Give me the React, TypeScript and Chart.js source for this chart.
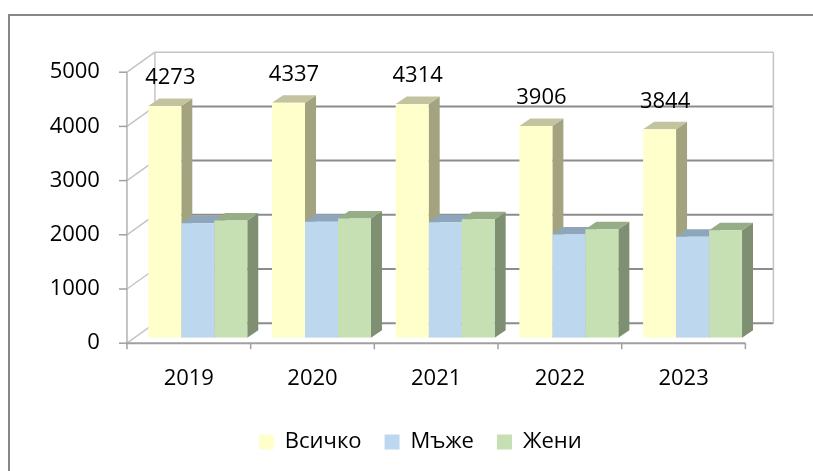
import React, { useEffect, useRef } from "react";
import { Chart, registerables } from "chart.js";

Chart.register(...registerables);

const categories = ["2019", "2020", "2021", "2022", "2023"];
const seriesNames = ["Всичко", "Мъже", "Жени"];
const totalValues = [4273, 4337, 4314, 3906, 3844];
const menValues = [2110, 2140, 2130, 1905, 1862];
const womenValues = [2163, 2197, 2184, 2001, 1982];
const yTicks = [0, 1000, 2000, 3000, 4000, 5000];

const frontColors = ["#FFFFCC", "#BDD7EE", "#C6E0B4"];
const topColors = ["#C3C39F", "#8DA6BB", "#97AD88"];
const sideColors = ["#A3A37F", "#7E93A6", "#7F8F71"];

const FONT = "'Open Sans', 'Noto Sans', sans-serif";
const GRID = "#8c8c8c";
const LIGHT = "#c4c4c4";

// projection offsets (relative to the bar front plane)
const FRONT = { x: -9, y: 5.5 };
const BACK = { x: 19, y: -14.5 };
const DEPTH = { x: 11, y: -7.5 };

const line = (ctx: CanvasRenderingContext2D, x1: number, y1: number, x2: number, y2: number, color: string, w: number) => {
  ctx.beginPath();
  ctx.strokeStyle = color;
  ctx.lineWidth = w;
  ctx.moveTo(x1, y1);
  ctx.lineTo(x2, y2);
  ctx.stroke();
};

const poly = (ctx: CanvasRenderingContext2D, pts: number[][], color: string) => {
  ctx.beginPath();
  ctx.fillStyle = color;
  pts.forEach((p, i) => (i === 0 ? ctx.moveTo(p[0], p[1]) : ctx.lineTo(p[0], p[1])));
  ctx.closePath();
  ctx.fill();
};

const threeD = {
  id: "threeD",
  beforeDraw(chart: any) {
    const ctx = chart.ctx as CanvasRenderingContext2D;
    ctx.save();
    ctx.strokeStyle = "#878787";
    ctx.lineWidth = 2;
    ctx.strokeRect(9, 15, 900, 600);
    ctx.restore();
  },
  beforeDatasetsDraw(chart: any) {
    const ctx = chart.ctx as CanvasRenderingContext2D;
    const { left, right } = chart.chartArea;
    const x = chart.scales.x;
    const y = chart.scales.y;
    const maxV = yTicks[yTicks.length - 1];
    const yTop = y.getPixelForValue(maxV);
    const y0 = y.getPixelForValue(0);
    ctx.save();
    // back wall gridlines
    yTicks.forEach((v) => {
      const py = y.getPixelForValue(v);
      line(ctx, left + BACK.x, py + BACK.y, right + BACK.x, py + BACK.y, v === maxV ? LIGHT : GRID, v === maxV ? 1.5 : 2);
    });
    // back wall edges
    line(ctx, left + BACK.x, yTop + BACK.y, left + BACK.x, y0 + BACK.y, LIGHT, 1.5);
    line(ctx, right + BACK.x, yTop + BACK.y, right + BACK.x, y0 + BACK.y, LIGHT, 1.5);
    // side wall diagonals
    yTicks.forEach((v) => {
      const py = y.getPixelForValue(v);
      line(ctx, left + FRONT.x, py + FRONT.y, left + BACK.x, py + BACK.y, LIGHT, 1.5);
    });
    // front value axis
    line(ctx, left + FRONT.x, yTop + FRONT.y, left + FRONT.x, y0 + FRONT.y, "#b0b0b0", 1.5);
    yTicks.forEach((v) => {
      const py = y.getPixelForValue(v);
      line(ctx, left + FRONT.x - 8, py + FRONT.y, left + FRONT.x, py + FRONT.y, "#a0a0a0", 1.5);
    });
    // front category axis
    line(ctx, left + FRONT.x, y0 + FRONT.y, right + FRONT.x, y0 + FRONT.y, "#a0a0a0", 2);
    const catW = x.getPixelForValue(1) - x.getPixelForValue(0);
    for (let i = 0; i <= categories.length; i++) {
      const bx = x.getPixelForValue(0) - catW / 2 + i * catW + FRONT.x;
      line(ctx, bx, y0 + FRONT.y, bx, y0 + FRONT.y + 6, "#a0a0a0", 1.5);
    }
    // bar side and top faces
    const nSets = chart.data.datasets.length;
    for (let i = 0; i < categories.length; i++) {
      for (let j = 0; j < nSets; j++) {
        const bar = chart.getDatasetMeta(j).data[i];
        const p = bar.getProps(["x", "y", "base", "width"], true);
        const l = p.x - p.width / 2;
        const r = p.x + p.width / 2;
        poly(ctx, [[r, p.y], [r + DEPTH.x, p.y + DEPTH.y], [r + DEPTH.x, p.base + DEPTH.y], [r, p.base]], sideColors[j]);
        poly(ctx, [[l, p.y], [l + DEPTH.x, p.y + DEPTH.y], [r + DEPTH.x, p.y + DEPTH.y], [r, p.y]], topColors[j]);
      }
    }
    ctx.restore();
  },
  afterDatasetsDraw(chart: any) {
    const ctx = chart.ctx as CanvasRenderingContext2D;
    ctx.save();
    ctx.font = `22px ${FONT}`;
    ctx.fillStyle = "#000";
    ctx.textAlign = "center";
    ctx.textBaseline = "middle";
    chart.getDatasetMeta(0).data.forEach((bar: any, i: number) => {
      const p = bar.getProps(["x", "y"], true);
      ctx.fillText(String(totalValues[i]), p.x + DEPTH.x / 2, p.y - 28);
    });
    ctx.restore();
  },
};

export default function App() {
  const ref = useRef<HTMLCanvasElement>(null);
  useEffect(() => {
    if (!ref.current) return;
    Chart.defaults.color = "#000";
    const chart = new Chart(ref.current, {
      type: "bar",
      data: {
        labels: categories,
        datasets: [totalValues, menValues, womenValues].map((vals, j) => ({
          label: seriesNames[j],
          data: vals,
          backgroundColor: frontColors[j],
          borderWidth: 0,
          categoryPercentage: 0.8,
          barPercentage: 1.0,
        })),
      },
      options: {
        animation: false,
        responsive: true,
        maintainAspectRatio: false,
        layout: { padding: { left: 27.6, right: 0, top: 66.7, bottom: 8 } },
        plugins: {
          tooltip: { enabled: false },
          legend: {
            position: "bottom",
            labels: {
              font: { family: FONT, size: 22 },
              color: "#000",
              boxWidth: 15,
              boxHeight: 15,
              padding: 23,
            },
          },
        },
        scales: {
          x: {
            grid: { display: false },
            border: { display: false },
            ticks: { font: { family: FONT, size: 22 }, color: "#000", labelOffset: FRONT.x, padding: 20, maxRotation: 0 },
            afterFit: (s: any) => { s.height = 70.3; },
          },
          y: {
            min: yTicks[0],
            max: yTicks[yTicks.length - 1],
            grid: { display: false },
            border: { display: false },
            ticks: {
              stepSize: yTicks[1] - yTicks[0],
              font: { family: FONT, size: 22 },
              color: "#000",
              labelOffset: FRONT.y,
              padding: 28,
              callback: (v: any) => String(v),
            },
            afterFit: (s: any) => { s.width = 108.35; },
          },
          yRight: {
            position: "right",
            display: true,
            grid: { display: false },
            border: { display: false },
            ticks: { display: false },
            afterFit: (s: any) => { s.width = 58.6; },
          },
        },
      },
      plugins: [threeD],
    });
    return () => chart.destroy();
  }, []);
  return (
    <div style={{ position: "absolute", left: 0, top: 0, width: 813, height: 471 }}>
      <canvas ref={ref} />
    </div>
  );
}
